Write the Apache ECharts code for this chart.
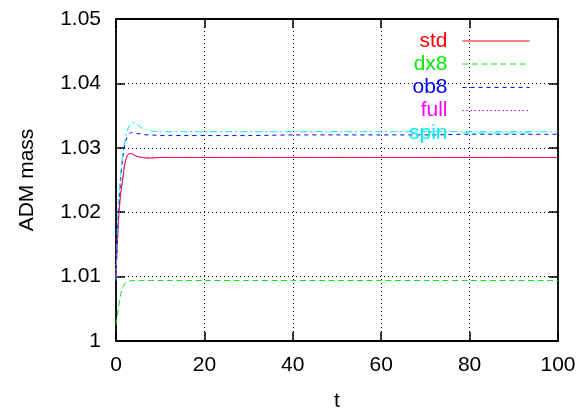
<!DOCTYPE html>
<html>
<head>
<meta charset="utf-8">
<script src="https://cdn.jsdelivr.net/npm/echarts@6/dist/echarts.min.js"></script>
<style>
  html, body { margin: 0; padding: 0; background: #fff; }
  #chart { width: 577px; height: 411px; }
</style>
</head>
<body>
<div id="chart"></div>
<script>
// Time samples (shared by all runs)
var times = [0, 0.5, 1, 1.5, 2, 2.5, 3, 3.5, 4, 5, 6, 7, 8, 10, 12, 15, 20, 30, 40, 50, 60, 70, 80, 90, 100];

// ADM mass for each run
var stdMass  = [1.0100, 1.0180, 1.0225, 1.0250, 1.0275, 1.0287, 1.0291, 1.0291, 1.0289, 1.0286, 1.0285, 1.0284, 1.0284, 1.0285, 1.0285, 1.0285, 1.0285, 1.0285, 1.0285, 1.0285, 1.0285, 1.0285, 1.0285, 1.0285, 1.0285];
var dx8Mass  = [1.0025, 1.0050, 1.0070, 1.0083, 1.0089, 1.0092, 1.0093, 1.0094, 1.0094, 1.0094, 1.0094, 1.0094, 1.0094, 1.0094, 1.0094, 1.0094, 1.0094, 1.0094, 1.0094, 1.0094, 1.0094, 1.0094, 1.0094, 1.0094, 1.0094];
var ob8Mass  = [1.0100, 1.0190, 1.0245, 1.0283, 1.0305, 1.0316, 1.0322, 1.0324, 1.0323, 1.0322, 1.0321, 1.0320, 1.0320, 1.0319, 1.0319, 1.0319, 1.0319, 1.0319, 1.0320, 1.0320, 1.0320, 1.0320, 1.0321, 1.0321, 1.0321];
var fullMass = [1.0100, 1.0181, 1.0226, 1.0251, 1.0276, 1.0288, 1.0291, 1.0291, 1.0289, 1.0286, 1.0285, 1.0285, 1.0285, 1.0285, 1.0285, 1.0285, 1.0285, 1.0285, 1.0285, 1.0285, 1.0285, 1.0285, 1.0285, 1.0285, 1.0285];
var spinMass = [1.0094, 1.0210, 1.0255, 1.0290, 1.0310, 1.0325, 1.0334, 1.0338, 1.0339, 1.0335, 1.0330, 1.0328, 1.0326, 1.0325, 1.0325, 1.0325, 1.0325, 1.0325, 1.0325, 1.0325, 1.0325, 1.0325, 1.0325, 1.0325, 1.0325];

var seriesNames = ['std', 'dx8', 'ob8', 'full', 'spin'];
var seriesData = [stdMass, dx8Mass, ob8Mass, fullMass, spinMass];
var seriesColors = ['#ff0000', '#00ee00', '#0000ff', '#ff00ff', '#00eeee'];
var seriesDash = ['solid', [6, 3.5], [4, 4], [1.5, 2.5], [7, 3, 2, 3]];

// Axis ticks
var xTicks = [0, 20, 40, 60, 80, 100];
var yTicks = [1, 1.01, 1.02, 1.03, 1.04, 1.05];

var FONT = '"Liberation Sans", Arial, sans-serif';
var FS = 21;

function pairs(vals) {
  return times.map(function (t, i) { return [t, vals[i]]; });
}

var series = seriesNames.map(function (name, i) {
  return {
    name: name,
    type: 'line',
    xAxisIndex: 0,
    yAxisIndex: 0,
    symbol: 'none',
    smooth: 0.3,
    data: pairs(seriesData[i]),
    lineStyle: { color: seriesColors[i], width: 1, type: seriesDash[i] },
    itemStyle: { color: seriesColors[i] },
    z: name === 'full' ? 3 : 2
  };
});

// one legend block per run, all right-aligned to the same edge
var rowY = [41, 64, 87.5, 110.5, 133];
var legends = seriesNames.map(function (name, i) {
  return {
    orient: 'vertical',
    right: 47,
    top: rowY[i] - 12,
    padding: 0,
    align: 'right',
    itemWidth: 67,
    itemHeight: 14,
    selectedMode: false,
    itemStyle: { opacity: 0, borderWidth: 0 },
    lineStyle: { width: 1 },
    data: [name],
    textStyle: {
      color: seriesColors[i],
      fontFamily: FONT,
      fontSize: FS,
      lineHeight: 24,
      padding: [0, 10, 0, 0]
    }
  };
});

var gridLine = { show: true, lineStyle: { color: '#000', width: 1, type: [1, 3] } };
var frameLine = { show: true, onZero: false, lineStyle: { color: '#000', width: 1.8 } };
var tickIn = { show: true, inside: true, length: 9, lineStyle: { color: '#000', width: 1.5 } };

var option = {
  backgroundColor: '#fff',
  animation: false,
  grid: { left: 116, right: 19, top: 19, bottom: 70, outerBoundsMode: 'none', containLabel: false },
  legend: legends,
  xAxis: [
    {
      type: 'value', min: 0, max: 100, interval: 20, position: 'bottom',
      axisLine: frameLine, axisTick: tickIn, splitLine: gridLine,
      axisLabel: { color: '#000', fontFamily: FONT, fontSize: FS, margin: 14,
        formatter: function (v) { return xTicks.indexOf(v) >= 0 ? String(v) : ''; } },
      name: 't', nameLocation: 'middle', nameGap: 50,
      nameTextStyle: { color: '#000', fontFamily: FONT, fontSize: FS }
    },
    {
      type: 'value', min: 0, max: 100, interval: 20, position: 'top',
      axisLine: frameLine, axisTick: tickIn, splitLine: { show: false },
      axisLabel: { show: false }
    }
  ],
  yAxis: [
    {
      type: 'value', min: 1, max: 1.05, interval: 0.01, position: 'left',
      axisLine: frameLine, axisTick: tickIn, splitLine: gridLine,
      axisLabel: { color: '#000', fontFamily: FONT, fontSize: FS, margin: 15,
        formatter: function (v) {
          var r = Math.round(v * 100) / 100;
          return yTicks.indexOf(r) >= 0 ? String(r) : '';
        } },
      name: 'ADM mass', nameLocation: 'middle', nameGap: 78,
      nameTextStyle: { color: '#000', fontFamily: FONT, fontSize: FS }
    },
    {
      type: 'value', min: 1, max: 1.05, interval: 0.01, position: 'right',
      axisLine: frameLine, axisTick: tickIn, splitLine: { show: false },
      axisLabel: { show: false }
    }
  ],
  series: series
};

var chart = echarts.init(document.getElementById('chart'), null, { renderer: 'canvas' });
chart.setOption(option);
</script>
</body>
</html>
